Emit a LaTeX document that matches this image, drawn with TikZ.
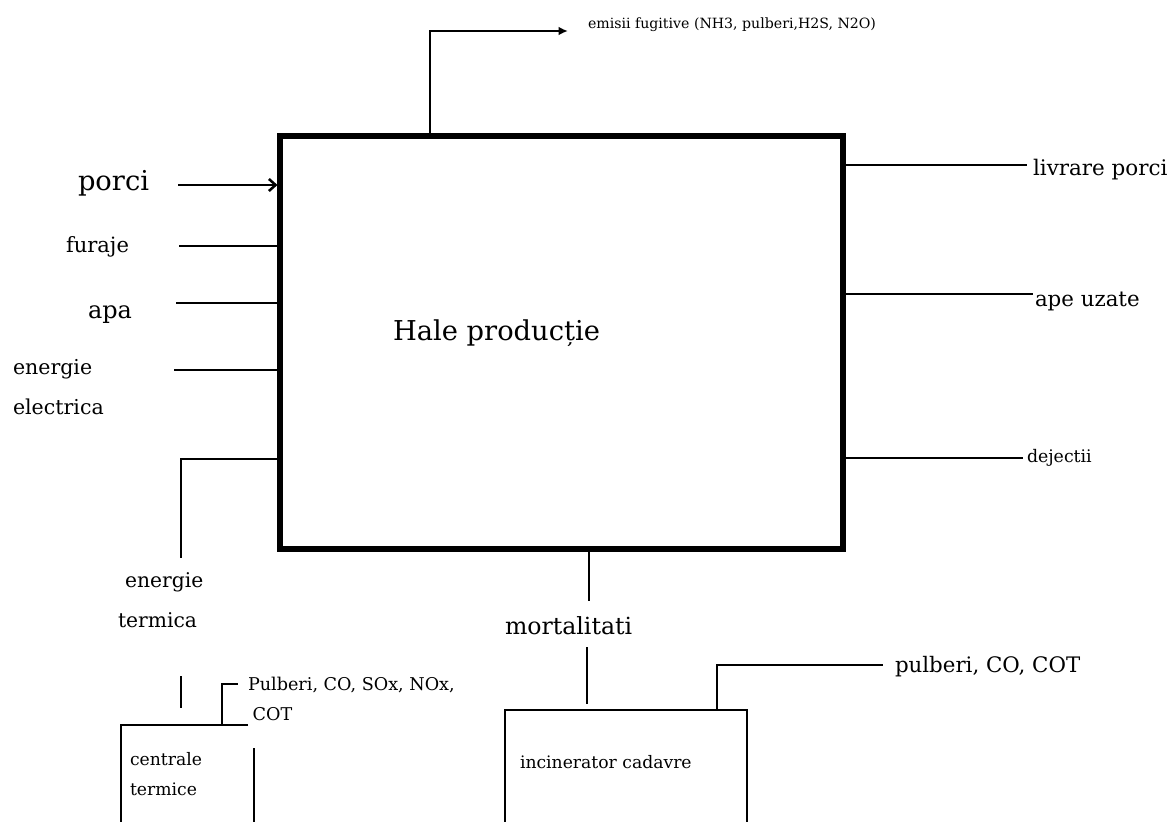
\documentclass[tikz,border=0pt]{standalone}
\usepackage{fontspec}
\setmainfont{DejaVu Serif}
\usetikzlibrary{arrows.meta}
\newcommand\fsz[2]{\fontsize{#1pt}{#2pt}\selectfont}
\begin{document}
\begin{tikzpicture}[x=0.75pt,y=-0.75pt,
  thinln/.style={line width=1.1pt},
  thickln/.style={line width=1.9pt},
  lbl/.style={anchor=west,inner sep=0pt,outer sep=0pt,align=left},
  halebox/.style={draw,line width=4.5pt,minimum width=421.9pt,minimum height=310.1pt,inner sep=0pt}]
\useasboundingbox (0,0) rectangle (1170,821);
\clip (0,0) rectangle (1170,821);

% main box
\node[halebox] (hale) at (561.75,342.75) {};
\node[lbl,font=\fsz{20.5}{24}] (halelbl) at (393,333) {Hale producție};

% emissions
\coordinate (emA) at (430,31);
\coordinate (emB) at (568,31);
\draw[thickln,-{Latex[length=7pt,width=6.5pt]}] (emA |- hale.north) -- (emA) -- (emB);
\node[lbl,font=\fsz{10.6}{12}] (emisii) at (588,25) {emisii fugitive (NH3, pulberi,H2S, N2O)};

% inputs
\node[lbl,font=\fsz{20.5}{24}] (porci) at (78,183) {porci};
\coordinate (porciS) at (178,185);
\draw[thickln,-{Straight Barb[length=5pt,width=9pt]}] (porciS) -- (porciS -| hale.west);

\node[lbl,font=\fsz{15.8}{19}] (furaje) at (66,247) {furaje};
\coordinate (furajeS) at (179,246);
\draw[thinln] (furajeS) -- (furajeS -| hale.west);

\node[lbl,font=\fsz{18}{22}] (apa) at (88,315) {apa};
\coordinate (apaS) at (176,303);
\draw[thinln] (apaS) -- (apaS -| hale.west);

\node[lbl,font=\fsz{15.4}{30}] (enel) at (13,387) {energie\\electrica};
\coordinate (enelS) at (174,370);
\draw[thinln] (enelS) -- (enelS -| hale.west);

% energie termica
\coordinate (tA) at (181,459);
\coordinate (tB) at (181,558);
\draw[thinln] (tA -| hale.west) -- (tA) -- (tB);
\node[lbl,font=\fsz{15.2}{30}] (entermica) at (118,600) {\hspace*{5.3pt}energie\\termica};
\coordinate (tC) at (181,676);
\coordinate (tD) at (181,708);
\draw[thinln] (tC) -- (tD);

% centrale termice
\coordinate (ctTL) at (121,725);
\coordinate (ctTR) at (248,725);
\coordinate (ctBL) at (121,840);
\coordinate (ctR1) at (254,748);
\coordinate (ctR2) at (254,840);
\draw[thinln] (ctTR) -- (ctTL) -- (ctBL);
\draw[thinln] (ctR1) -- (ctR2);
\node[lbl,font=\fsz{12.9}{23}] (centrale) at (130,774) {centrale\\termice};
\coordinate (chA) at (222,725);
\coordinate (chB) at (222,684);
\coordinate (chC) at (238,684);
\draw[thinln] (chA) -- (chB) -- (chC);
\node[lbl,font=\fsz{13.2}{23}] (pulberi1) at (248,699) {Pulberi, CO, SOx, NOx,\\\hspace*{3.5pt}COT};

% mortalitati
\coordinate (mA) at (589,601);
\draw[thinln] (mA |- hale.south) -- (mA);
\node[lbl,font=\fsz{17.7}{21}] (mort) at (505,626) {mortalitati};
\coordinate (mB) at (587,647);
\coordinate (mC) at (587,704);
\draw[thinln] (mB) -- (mC);

% incinerator
\coordinate (inBL) at (505,840);
\coordinate (inTL) at (505,710);
\coordinate (inTR) at (747,710);
\coordinate (inBR) at (747,840);
\draw[thinln] (inBL) -- (inTL) -- (inTR) -- (inBR);
\node[lbl,font=\fsz{12.9}{16}] (incin) at (520,762) {incinerator cadavre};
\coordinate (icA) at (717,710);
\coordinate (icB) at (717,665);
\coordinate (icC) at (883,665);
\draw[thinln] (icA) -- (icB) -- (icC);
\node[lbl,font=\fsz{16}{19}] (pulberi2) at (895,667) {pulberi, CO, COT};

% outputs
\coordinate (livS) at (1027,165);
\draw[thickln] (livS -| hale.east) -- (livS);
\node[lbl,font=\fsz{16.1}{19}] (livrare) at (1033,170) {livrare porci};

\coordinate (apeS) at (1033,294);
\draw[thinln] (apeS -| hale.east) -- (apeS);
\node[lbl,font=\fsz{16}{19}] (apeuz) at (1035,301) {ape uzate};

\coordinate (dejS) at (1023,458);
\draw[thinln] (dejS -| hale.east) -- (dejS);
\node[lbl,font=\fsz{13}{16}] (dej) at (1027,458) {dejectii};
\end{tikzpicture}
\end{document}
